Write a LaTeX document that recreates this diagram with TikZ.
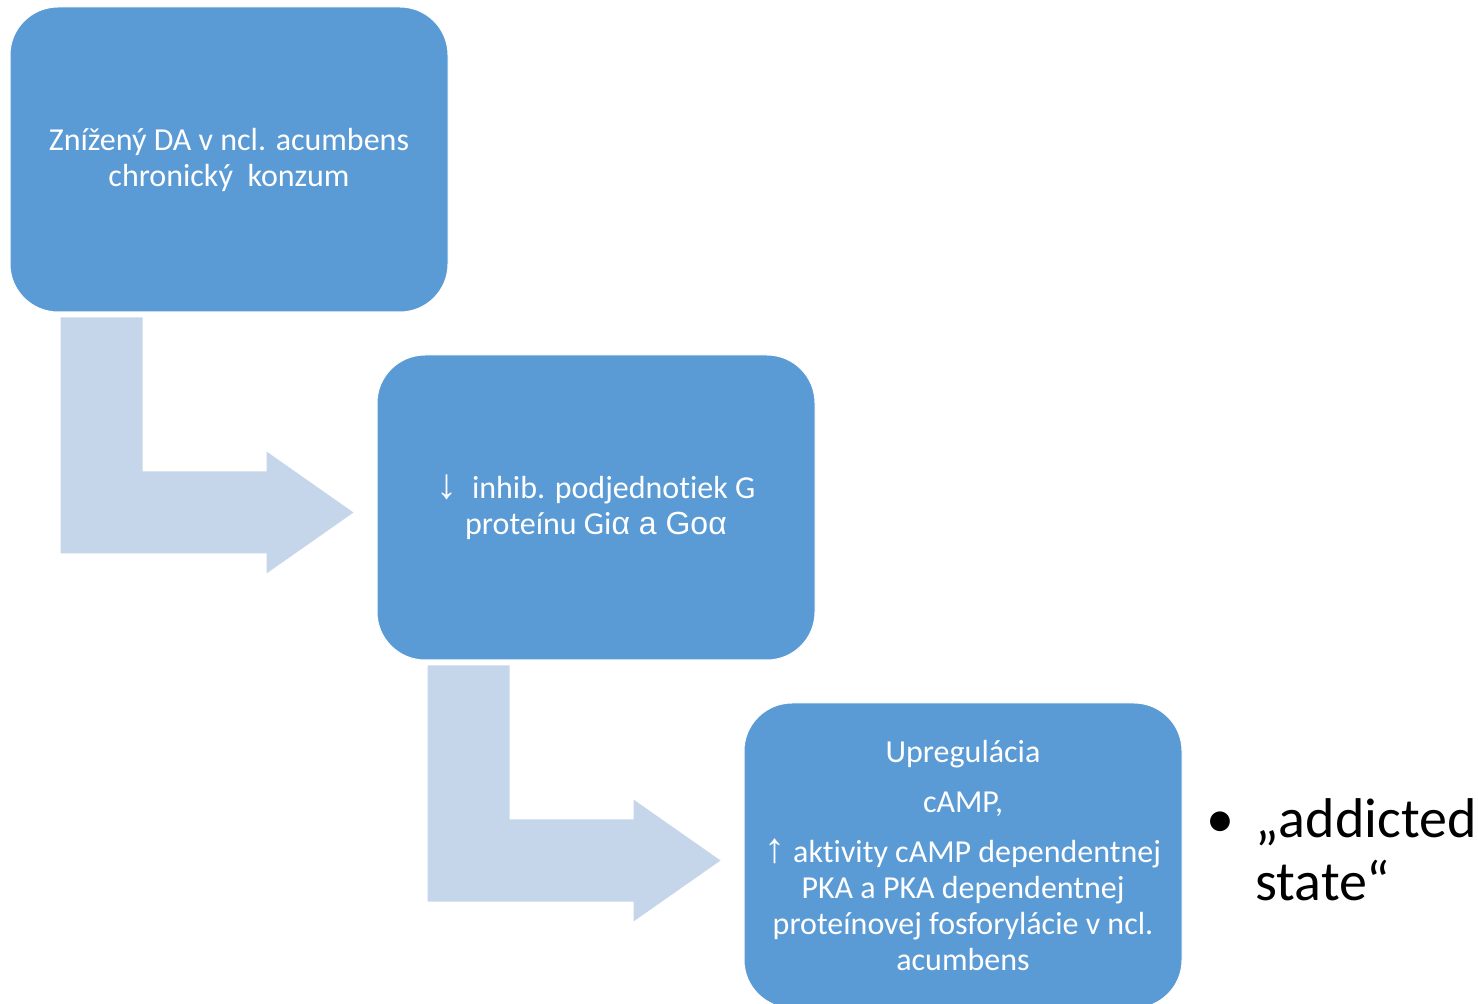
\documentclass[tikz,border=0pt]{standalone}
\usepackage{fontspec}
\setmainfont[Ligatures=NoCommon]{Carlito}
\newfontfamily\arrowfont{Liberation Sans}
\usetikzlibrary{calc,positioning}
\definecolor{boxblue}{HTML}{5B9BD5}
\definecolor{arrowblue}{HTML}{C5D5EA}
\newcommand{\bigarrow}[1]{{\arrowfont\fontsize{21}{18}\selectfont #1}}
\tikzset{
  stepbox/.style={rectangle, rounded corners=24pt, fill=boxblue, draw=white, line width=0.5pt,
    minimum width=219pt, minimum height=152.5pt, inner sep=0pt,
    text=white, align=center, font=\fontsize{16}{18}\selectfont},
  bentarrow/.style={fill=arrowblue},
  bigtext/.style={font=\fontsize{28}{31}\selectfont, inner sep=0pt}
}
\begin{document}
\begin{tikzpicture}[x=0.5pt,y=-0.5pt]
    \useasboundingbox (0,0) rectangle (1478,1004);
    \node[stepbox] (one) at (229,159.5) {Znížený DA v ncl. acumbens\\chronický\ \ konzum};
    \node[stepbox] (two) at (596,507.5) {\bigarrow{↓}\ \ inhib. podjednotiek G\\proteínu Gi{\arrowfont α a Goα}};
    \node[stepbox] (three) at (963,855.5) {Upregulácia\\[7pt]cAMP,\\[7pt]\bigarrow{↑} aktivity cAMP dependentnej\\PKA a PKA dependentnej\\proteínovej fosforylácie v ncl.\\acumbens};
    % bent arrows between the steps
    \foreach \a in {one,two}
    {
        \fill[bentarrow] ($(\a.south west)+(51,5)$) -- ++(82,0) -- ++(0,154) -- ++(124,0) -- ++(0,-20)
            -- ($(\a.south west)+(344,200)$) -- ($(\a.south west)+(257,261)$) -- ++(0,-20) -- ++(-206,0) -- cycle;
    }
    \node[bigtext, anchor=base west] (addicted) at (1255,838) {„addicted};
    \node[bigtext, anchor=base west] (state) at ($(addicted.base west)+(0,62)$) {state“};
    \node[bigtext, anchor=base] (dot) at (1220,838) {•};
\end{tikzpicture}
\end{document}
